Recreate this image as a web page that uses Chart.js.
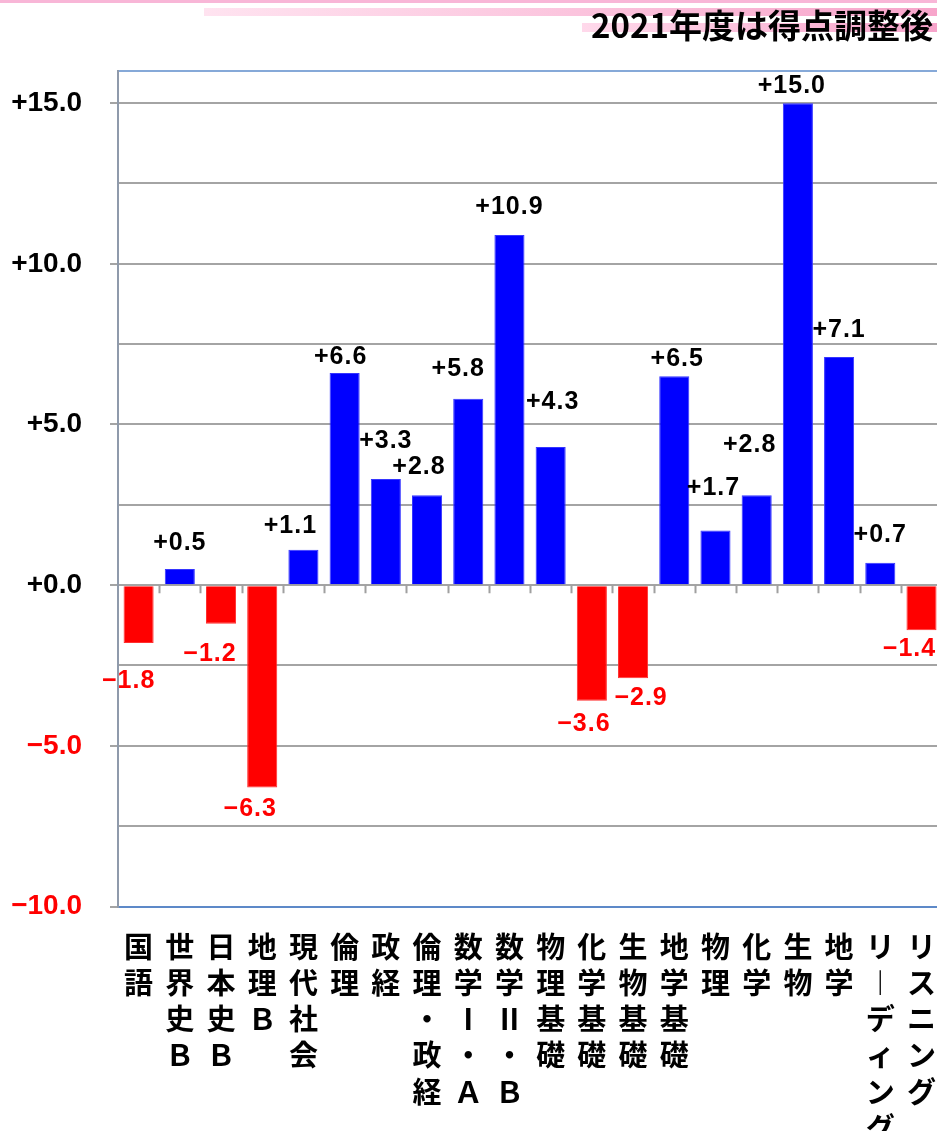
<!DOCTYPE html>
<html>
<head>
<meta charset="utf-8">
<script src="https://cdn.jsdelivr.net/npm/chart.js@4.4.1/dist/chart.umd.min.js"></script>
<style>
html,body{margin:0;padding:0;overflow:hidden;background:#fff;width:937px;height:1131px}
#wrap{position:absolute;left:0;top:0;width:950px;height:1160px}
.band{position:absolute}
#b1{left:0;top:0;width:950px;height:3px;background:#f8b6d7}
#b2{left:204px;top:8px;width:746px;height:8px;background:linear-gradient(to right,#ffe3f0,#f7a4ca)}
#b3{left:582px;top:23px;width:368px;height:9px;background:linear-gradient(to right,#ffd9eb,#f6a2c9)}
#title{position:absolute;right:17px;top:6px;font-family:"Noto Sans CJK JP";font-weight:bold;font-size:33px;line-height:36px;color:#000;white-space:nowrap}
canvas{position:absolute;left:0;top:0}
</style>
</head>
<body>
<div id="wrap">
  <div class="band" id="b1"></div>
  <div class="band" id="b2"></div>
  <div class="band" id="b3"></div>
  <canvas id="c" width="950" height="1160"></canvas>
  <div id="title">2021年度は得点調整後</div>
</div>
<script>
// ---- data ----
const categories = ["国語","世界史Ｂ","日本史Ｂ","地理Ｂ","現代社会","倫理","政経","倫理・政経","数学Ⅰ・Ａ","数学Ⅱ・Ｂ","物理基礎","化学基礎","生物基礎","地学基礎","物理","化学","生物","地学","リーディング","リスニング"];
const changes = [-1.8, 0.5, -1.2, -6.3, 1.1, 6.6, 3.3, 2.8, 5.8, 10.9, 4.3, -3.6, -2.9, 6.5, 1.7, 2.8, 15.0, 7.1, 0.7, -1.4];
const yTickValues = [-10, -7.5, -5, -2.5, 0, 2.5, 5, 7.5, 10, 12.5, 15, 16];
const yLabelValues = [-10, -5, 0, 5, 10, 15];

// ---- label layout (offsets from bar end, px) ----
const labelNudge = [[-10,38],[0,-26],[-11,30],[-12,22],[-13,-24],[-4,-16],[0,-38],[-8,-28],[-10,-30],[0,-28],
                    [2,-45],[-8,23],[8,20],[3,-17],[-2,-42],[-7,-50],[-6,-17],[0,-27],[0,-28],[-12,19]];

const fmt = v => (v < 0 ? '−' : '+') + Math.abs(v).toFixed(1);
const splitLabel = s => Array.from(s).map(ch => ch === 'ー' ? '︱' : ch);

const dataLabels = {
  id: 'dataLabels',
  afterDatasetsDraw(chart) {
    const ctx = chart.ctx;
    const meta = chart.getDatasetMeta(0);
    ctx.save();
    ctx.font = 'bold 25px "Liberation Sans"';
    try { ctx.letterSpacing = '1px'; } catch (e) {}
    ctx.textAlign = 'center';
    ctx.textBaseline = 'middle';
    meta.data.forEach((bar, i) => {
      const v = changes[i];
      const n = labelNudge[i];
      ctx.fillStyle = v < 0 ? '#ff0000' : '#000000';
      ctx.fillText(fmt(v), bar.x + n[0], bar.y + n[1]);
    });
    ctx.restore();
  }
};

const zeroTicks = {
  id: 'zeroTicks',
  afterDraw(chart) {
    const ctx = chart.ctx, x = chart.scales.x, y = chart.scales.y;
    const y0 = y.getPixelForValue(0);
    ctx.save();
    ctx.strokeStyle = '#a0a0a0';
    ctx.lineWidth = 2;
    ctx.beginPath();
    for (let i = 0; i < categories.length - 1; i++) {
      const bx = Math.round((x.getPixelForValue(i) + x.getPixelForValue(i + 1)) / 2) + 0.5;
      ctx.moveTo(bx, y0);
      ctx.lineTo(bx, y0 + 8);
    }
    ctx.stroke();
    ctx.restore();
  }
};

new Chart(document.getElementById('c'), {
  type: 'bar',
  data: {
    labels: categories,
    datasets: [{
      data: changes,
      backgroundColor: changes.map(v => v < 0 ? '#ff0000' : '#0000ff'),
      borderColor: changes.map(v => v < 0 ? '#ff3030' : '#3535ff'),
      borderWidth: 1,
      barPercentage: 0.73,
      categoryPercentage: 1.0
    }]
  },
  options: {
    responsive: false,
    animation: false,
    devicePixelRatio: 1,
    layout: { padding: { top: 71, left: 0, right: 0, bottom: 0 } },
    plugins: { legend: { display: false }, tooltip: { enabled: false }, title: { display: false } },
    scales: {
      x: {
        grid: { display: false },
        border: { display: false },
        ticks: {
          autoSkip: false, maxRotation: 0, minRotation: 0, padding: 14, color: '#000',
          font: { family: '"Noto Sans CJK JP"', size: 29, weight: 'bold', lineHeight: 1.25 },
          callback: (v, i) => splitLabel(categories[i])
        }
      },
      y: {
        min: -10, max: 16,
        afterBuildTicks: s => { s.ticks = yTickValues.map(v => ({ value: v })); },
        afterFit: s => { s.width = 118; },
        grid: {
          lineWidth: 2,
          tickLength: 8,
          color: c => c.tick && c.tick.value === 16 ? '#86a9d8' : (c.tick && c.tick.value === -10 ? '#5d89c8' : '#a4a4a4'),
          tickColor: c => c.tick && yLabelValues.includes(c.tick.value) ? '#a4a4a4' : 'rgba(0,0,0,0)'
        },
        border: { color: '#8f9aab', width: 2 },
        ticks: {
          padding: 28,
          color: c => c.tick && c.tick.value < 0 ? '#ff0000' : '#000000',
          font: { family: '"Liberation Sans"', size: 28, weight: 'bold' },
          callback: v => yLabelValues.includes(v) ? fmt(v) : ''
        }
      }
    }
  },
  plugins: [dataLabels, zeroTicks]
});
</script>
</body>
</html>
